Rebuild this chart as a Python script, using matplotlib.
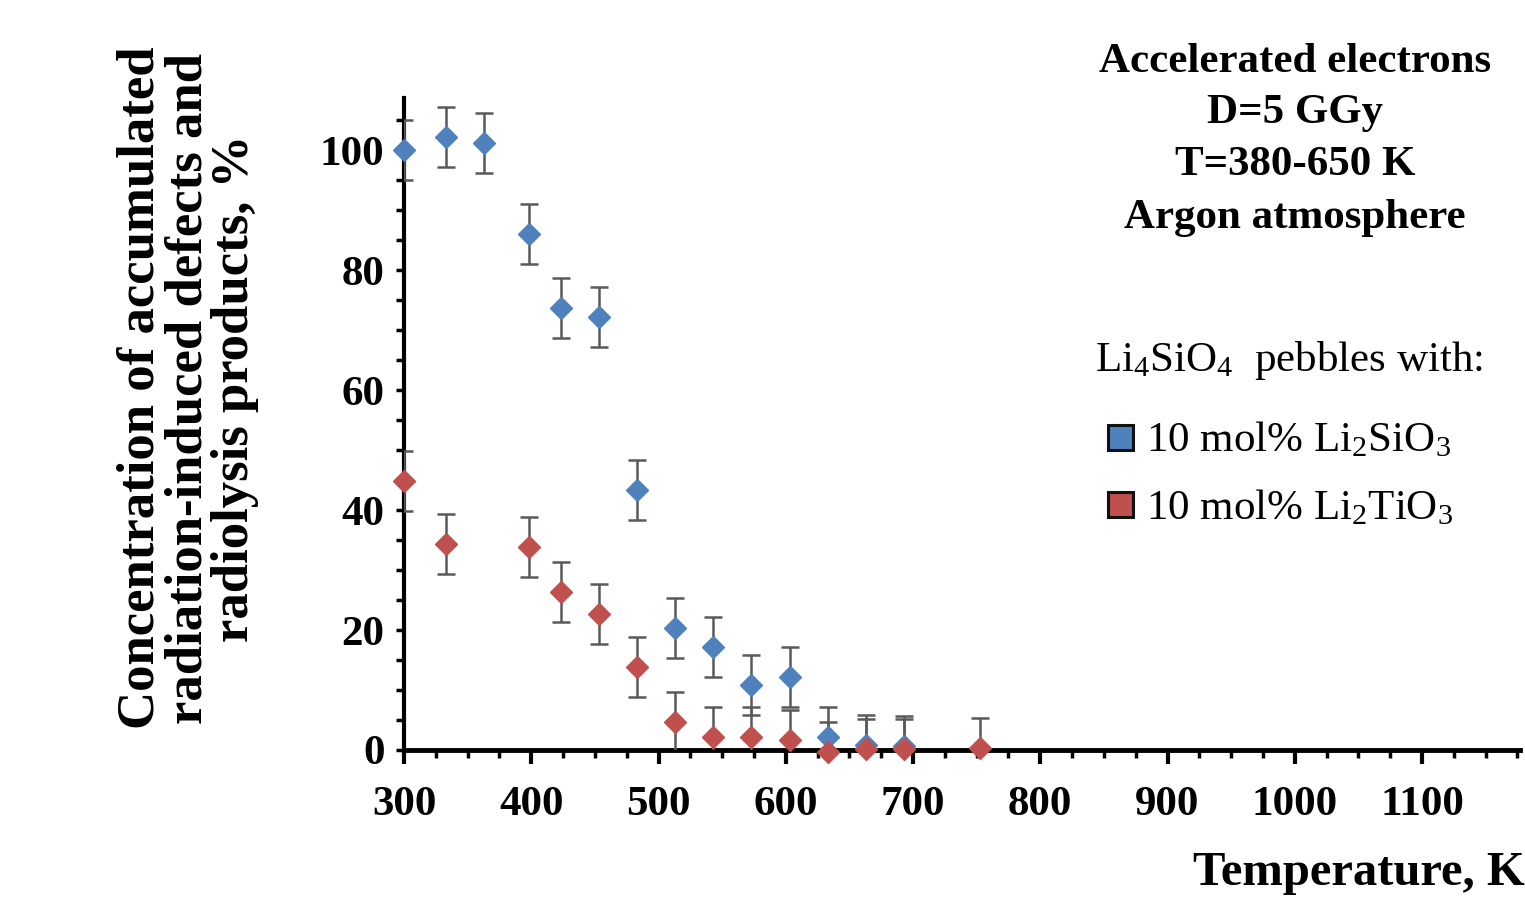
import numpy as np
import matplotlib
matplotlib.use('Agg')
import matplotlib.pyplot as plt
from matplotlib.lines import Line2D
from matplotlib.ticker import MultipleLocator

plt.rcParams['font.family'] = ['Liberation Serif', 'DejaVu Serif']
plt.rcParams['mathtext.fontset'] = 'custom'
plt.rcParams['mathtext.rm'] = 'Liberation Serif'
plt.rcParams['mathtext.bf'] = 'Liberation Serif:bold'
plt.rcParams['mathtext.default'] = 'regular'

# Li4SiO4 + 10 mol% Li2SiO3
T_si = [300, 333, 363, 398, 423, 453, 483, 513, 543, 573, 603, 633, 663, 693]
C_si = [100.0, 102.2, 101.2, 86.0, 73.7, 72.2, 43.4, 20.4, 17.2, 10.8, 12.1, 2.2, 0.8, 0.7]
# Li4SiO4 + 10 mol% Li2TiO3
T_ti = [300, 333, 398, 423, 453, 483, 513, 543, 573, 603, 633, 663, 693, 753]
C_ti = [44.9, 34.3, 33.9, 26.4, 22.7, 13.9, 4.7, 2.1, 2.1, 1.7, -0.3, 0.2, 0.2, 0.3]
err = 5.0

blue = '#4f81bd'
red = '#c0504d'
ecol = '#595959'

fig = plt.figure(figsize=(15.25, 9.0), dpi=100)
ax = fig.add_axes([404/1525, 1-750/900, 1116/1525, 652/900])

for T, C, col, z in [(T_si, C_si, blue, 3), (T_ti, C_ti, red, 4)]:
    ax.errorbar(T, C, yerr=err, fmt='none', ecolor=ecol, elinewidth=1.8,
                capsize=6.5, capthick=1.8, zorder=z)
    ax.plot(T, C, 'D', color=col, ms=11.5, mec=col, clip_on=False, zorder=z + 2)

ax.set_xlim(300, 1177)
ax.set_ylim(0, 108.7)
ax.xaxis.set_major_locator(MultipleLocator(100))
ax.xaxis.set_minor_locator(MultipleLocator(25))
ax.yaxis.set_major_locator(MultipleLocator(20))
ax.yaxis.set_minor_locator(MultipleLocator(5))

for s in ['top', 'right']:
    ax.spines[s].set_visible(False)
ax.spines['left'].set_linewidth(3.0)
ax.spines['bottom'].set_linewidth(3.5)
ax.tick_params(axis='x', which='major', direction='out', length=10, width=3, pad=16)
ax.tick_params(axis='x', which='minor', direction='out', length=6, width=2.5)
ax.tick_params(axis='y', which='both', direction='out', length=6, width=2.5, pad=8)
for lab in ax.get_xticklabels() + ax.get_yticklabels():
    lab.set_fontsize(31)
    lab.set_fontweight('bold')

fig.text(1525/1525, 1-873/900, 'Temperature, K', fontsize=35, fontweight='bold',
         ha='right', va='center')
fig.text(188/1525, 1-388/900,
         'Concentration of accumulated\nradiation-induced defects and\nradiolysis products, %',
         rotation=90, fontsize=38, fontweight='bold', ha='center', va='center',
         multialignment='center', linespacing=0.98)

info = ['Accelerated electrons', 'D=5 GGy', 'T=380-650 K', 'Argon atmosphere']
info_y = [62, 113, 165, 218]
for s, y in zip(info, info_y):
    fig.text(1295/1525, 1-y/900, s, fontsize=31, fontweight='bold',
             ha='center', va='center')

fig.text(1289/1525, 1-360/900, r'Li$_4$SiO$_4$  pebbles with:', fontsize=31,
         ha='center', va='center')

labels = [r'10 mol% Li$_2$SiO$_3$', r'10 mol% Li$_2$TiO$_3$']
handles = [Line2D([], [], ls='none', marker='s', ms=18, mfc=c, mec='#111111', mew=2.2)
           for c in [blue, red]]
fig.legend(handles, labels, loc='upper left', bbox_to_anchor=(1105/1525, 1-421/900),
           frameon=False, fontsize=31, handlelength=0.7, handletextpad=0.25,
           labelspacing=0.65, borderpad=0, borderaxespad=0)

fig.savefig('out.png', dpi=100)
